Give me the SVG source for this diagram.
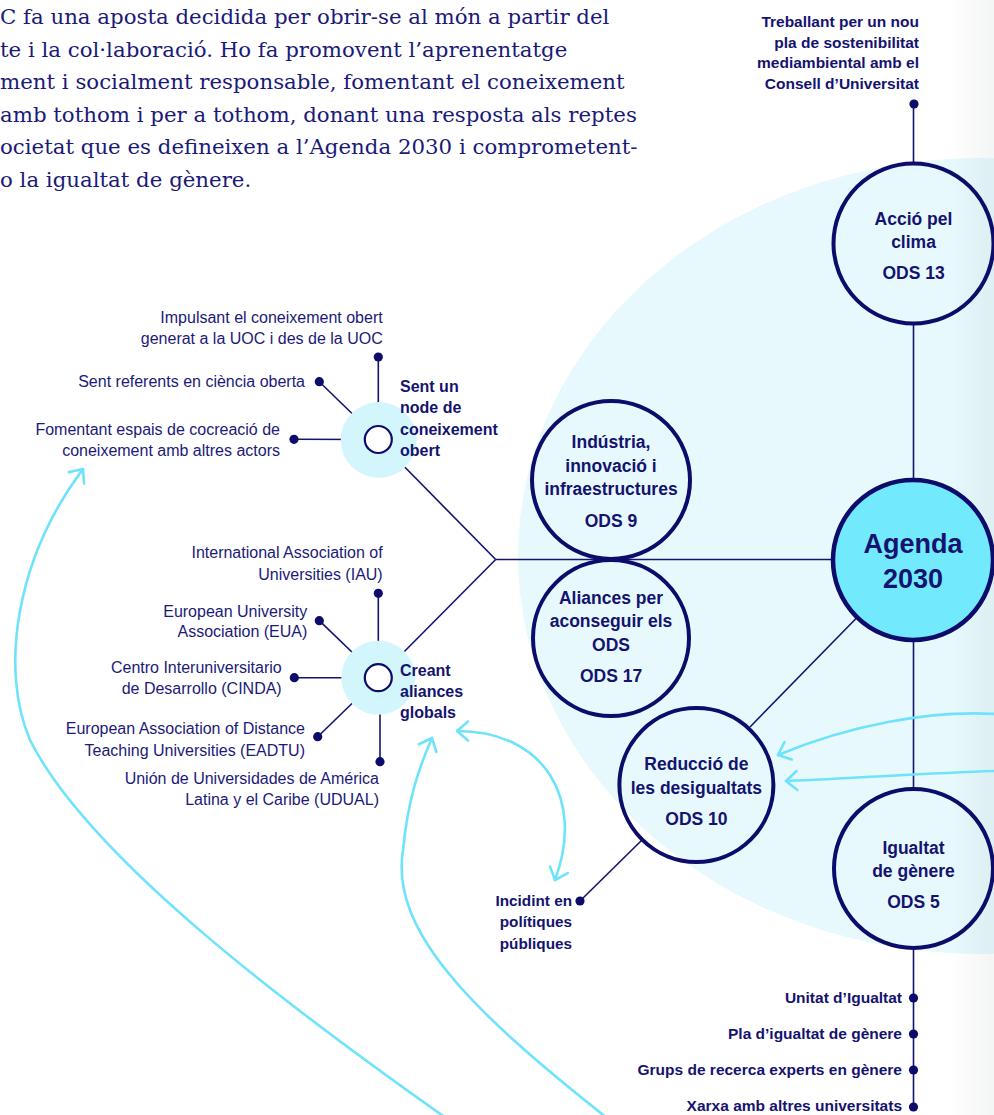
<svg xmlns="http://www.w3.org/2000/svg" width="994" height="1115" viewBox="0 0 994 1115">
<defs>
<style>
.lbl{font-family:"Liberation Sans",Arial,sans-serif;font-weight:700;fill:#14136f}
.big{font-size:17.5px;text-anchor:middle}
.sm{font-size:15.5px}
.hub{font-size:16px}
.reg{font-family:"Liberation Sans",Arial,sans-serif;font-weight:400;fill:#1b1a78;font-size:16px;text-anchor:end}
.ods{stroke:#0d0c6b;stroke-width:4;fill:none}
.ln{stroke:#14136f;stroke-width:1.6;fill:none}
.arr{stroke:#6fe3fb;stroke-width:2.6;fill:none;stroke-linecap:round}
.dot{fill:#0d0c6b}
.halo{fill:#d3f6fd}
.para{font-family:"DejaVu Serif","Liberation Serif",serif;font-size:21.3px;fill:#1b1a78}
</style>
<marker id="ah" markerUnits="userSpaceOnUse" viewBox="-14 -12 16 24" refX="0" refY="0" markerWidth="16" markerHeight="24" orient="auto-start-reverse" overflow="visible">
<path d="M-11,-9.5 L0,0 L-11,9.5" fill="none" stroke="#6fe3fb" stroke-width="2.6" stroke-linecap="round" stroke-linejoin="round"/>
</marker>
<linearGradient id="edge" x1="0" y1="0" x2="1" y2="0">
<stop offset="0" stop-color="#000" stop-opacity="0"/>
<stop offset="1" stop-color="#1a3a4a" stop-opacity="0.05"/>
</linearGradient>
</defs>
<rect x="0" y="0" width="994" height="1115" fill="#ffffff"/>
<ellipse cx="980" cy="556" rx="462" ry="398" fill="#e8f9fd"/>
<rect x="950" y="0" width="44" height="1115" fill="url(#edge)"/>

<g id="intro">
<text class="para" x="0" y="24">C fa una aposta decidida per obrir-se al món a partir del</text>
<text class="para" x="0" y="56.6">te i la col·laboració. Ho fa promovent l’aprenentatge</text>
<text class="para" x="0" y="89.2">ment i socialment responsable, fomentant el coneixement</text>
<text class="para" x="0" y="121.8">amb tothom i per a tothom, donant una resposta als reptes</text>
<text class="para" x="0" y="154.4">ocietat que es defineixen a l’Agenda 2030 i comprometent-</text>
<text class="para" x="0" y="187">o la igualtat de gènere.</text>
</g>

<g id="connectors">
<line class="ln" x1="913.5" y1="104" x2="913.5" y2="163.5"/>
<line class="ln" x1="913.5" y1="323.5" x2="913.5" y2="480"/>
<line class="ln" x1="913.5" y1="640" x2="913.5" y2="789"/>
<line class="ln" x1="913.5" y1="948" x2="913.5" y2="1107"/>
<line class="ln" x1="495.7" y1="559.5" x2="833" y2="559.5"/>
<line class="ln" x1="388" y1="450" x2="495.7" y2="559.5"/>
<line class="ln" x1="388" y1="668" x2="495.7" y2="559.5"/>
<line class="ln" x1="857" y1="617.5" x2="750" y2="727"/>
<line class="ln" x1="642" y1="840" x2="580" y2="901"/>
<line class="ln" x1="378.3" y1="426" x2="378.3" y2="357"/>
<line class="ln" x1="368.5" y1="429.5" x2="319.3" y2="381.7"/>
<line class="ln" x1="364.5" y1="439.5" x2="294" y2="439.3"/>
<line class="ln" x1="378.3" y1="664" x2="378.3" y2="593.3"/>
<line class="ln" x1="368.5" y1="668" x2="319.3" y2="620.7"/>
<line class="ln" x1="364.5" y1="677.7" x2="294.3" y2="677.7"/>
<line class="ln" x1="368.5" y1="687.5" x2="317.7" y2="736.7"/>
<line class="ln" x1="380" y1="691.5" x2="380" y2="761.7"/>
</g>

<g id="n-agenda">
<circle cx="913" cy="560" r="80" fill="#72e9fc" stroke="#0d0c6b" stroke-width="4.5"/>
<text class="lbl" x="913" y="553" font-size="27" text-anchor="middle">Agenda</text>
<text class="lbl" x="913" y="588" font-size="27" text-anchor="middle">2030</text>
</g>

<g id="n-accio">
<circle class="ods" cx="913.5" cy="243.5" r="80"/>
<text class="lbl big" x="913.5" y="225">Acció pel</text>
<text class="lbl big" x="913.5" y="248">clima</text>
<text class="lbl big" x="913.5" y="279">ODS 13</text>
</g>

<g id="n-accio-leaf">
<circle class="dot" cx="914" cy="104" r="4.6"/>
<text class="lbl sm" x="919" y="27" text-anchor="end" font-size="15">Treballant per un nou</text>
<text class="lbl sm" x="919" y="47.6" text-anchor="end" font-size="15">pla de sostenibilitat</text>
<text class="lbl sm" x="919" y="68.2" text-anchor="end" font-size="15">mediambiental amb el</text>
<text class="lbl sm" x="919" y="88.8" text-anchor="end" font-size="15">Consell d’Universitat</text>
</g>

<g id="n-industria">
<circle class="ods" cx="611" cy="480" r="79"/>
<text class="lbl big" x="611" y="448">Indústria,</text>
<text class="lbl big" x="611" y="472">innovació i</text>
<text class="lbl big" x="611" y="495">infraestructures</text>
<text class="lbl big" x="611" y="527">ODS 9</text>
</g>

<g id="n-aliances">
<circle class="ods" cx="611" cy="638" r="78"/>
<text class="lbl big" x="611" y="604">Aliances per</text>
<text class="lbl big" x="611" y="627">aconseguir els</text>
<text class="lbl big" x="611" y="651">ODS</text>
<text class="lbl big" x="611" y="682">ODS 17</text>
</g>

<g id="n-reduccio">
<circle class="ods" cx="696.4" cy="785" r="77"/>
<text class="lbl big" x="696.4" y="770">Reducció de</text>
<text class="lbl big" x="696.4" y="793.5">les desigualtats</text>
<text class="lbl big" x="696.4" y="824.5">ODS 10</text>
</g>

<g id="n-igualtat">
<circle class="ods" cx="913.5" cy="868.5" r="79.5"/>
<text class="lbl big" x="913.5" y="853.5">Igualtat</text>
<text class="lbl big" x="913.5" y="877">de gènere</text>
<text class="lbl big" x="913.5" y="908">ODS 5</text>
</g>

<g id="n-igualtat-leaves">
<circle class="dot" cx="913.5" cy="998" r="4.6"/>
<circle class="dot" cx="913.5" cy="1034" r="4.6"/>
<circle class="dot" cx="913.5" cy="1070" r="4.6"/>
<circle class="dot" cx="913.5" cy="1107" r="4.6"/>
<text class="lbl sm" x="902" y="1003" text-anchor="end">Unitat d’Igualtat</text>
<text class="lbl sm" x="902" y="1039" text-anchor="end">Pla d’igualtat de gènere</text>
<text class="lbl sm" x="902" y="1075" text-anchor="end">Grups de recerca experts en gènere</text>
<text class="lbl sm" x="902" y="1111" text-anchor="end">Xarxa amb altres universitats</text>
</g>

<g id="n-incidint">
<circle class="dot" cx="580" cy="901" r="4.6"/>
<text class="lbl" font-size="15.3" x="572" y="906" text-anchor="end">Incidint en</text>
<text class="lbl" font-size="15.3" x="572" y="927" text-anchor="end">polítiques</text>
<text class="lbl" font-size="15.3" x="572" y="949" text-anchor="end">públiques</text>
</g>

<g id="hub-coneixement">
<circle class="halo" cx="378.7" cy="440" r="38"/>
<circle cx="378.3" cy="439.5" r="13.5" fill="#ffffff" stroke="#0d0c6b" stroke-width="2.2"/>
<text class="lbl hub" x="400" y="391.7">Sent un</text>
<text class="lbl hub" x="400" y="412.7">node de</text>
<text class="lbl hub" x="400" y="435">coneixement</text>
<text class="lbl hub" x="400" y="455.7">obert</text>
<circle class="dot" cx="378.3" cy="357" r="4.6"/>
<circle class="dot" cx="319.3" cy="381.7" r="4.6"/>
<circle class="dot" cx="294" cy="439.3" r="4.6"/>
<text class="reg" x="382.7" y="323">Impulsant el coneixement obert</text>
<text class="reg" x="382.7" y="343.5">generat a la UOC i des de la UOC</text>
<text class="reg" x="305" y="386.7">Sent referents en ciència oberta</text>
<text class="reg" x="280" y="435">Fomentant espais de cocreació de</text>
<text class="reg" x="280" y="455.7">coneixement amb altres actors</text>
</g>

<g id="hub-aliances">
<circle class="halo" cx="378.3" cy="677.7" r="37"/>
<circle cx="378.3" cy="677.7" r="13.5" fill="#ffffff" stroke="#0d0c6b" stroke-width="2.2"/>
<text class="lbl hub" x="400" y="675.7">Creant</text>
<text class="lbl hub" x="400" y="696.7">aliances</text>
<text class="lbl hub" x="400" y="718.3">globals</text>
<circle class="dot" cx="378.3" cy="593.3" r="4.6"/>
<circle class="dot" cx="319.3" cy="620.7" r="4.6"/>
<circle class="dot" cx="294.3" cy="677.7" r="4.6"/>
<circle class="dot" cx="317.7" cy="736.7" r="4.6"/>
<circle class="dot" cx="380" cy="761.7" r="4.6"/>
<text class="reg" x="382.7" y="558.3">International Association of</text>
<text class="reg" x="382.7" y="580">Universities (IAU)</text>
<text class="reg" x="307.3" y="617.3">European University</text>
<text class="reg" x="307.3" y="637.3">Association (EUA)</text>
<text class="reg" x="281.7" y="673.3">Centro Interuniversitario</text>
<text class="reg" x="281.7" y="694">de Desarrollo (CINDA)</text>
<text class="reg" x="305" y="734">European Association of Distance</text>
<text class="reg" x="305" y="755.7">Teaching Universities (EADTU)</text>
<text class="reg" x="379" y="784">Unión de Universidades de América</text>
<text class="reg" x="379" y="805">Latina y el Caribe (UDUAL)</text>
</g>

<g id="flow-arrows">
<path class="arr" marker-end="url(#ah)" d="M446,1118 C300,1015 90,860 30,740 C0,670 15,560 83,469"/>
<path class="arr" marker-end="url(#ah)" d="M607,1118 C470,1010 390,930 403,850 C408,800 418,770 432,738"/>
<path class="arr" marker-start="url(#ah)" marker-end="url(#ah)" d="M457,731 C545,731 585,800 555,880"/>
<path class="arr" marker-end="url(#ah)" d="M996,714 C930,710 850,725 778,755"/>
<path class="arr" marker-end="url(#ah)" d="M996,771 C930,773 860,778 786,781"/>
</g>
</svg>
